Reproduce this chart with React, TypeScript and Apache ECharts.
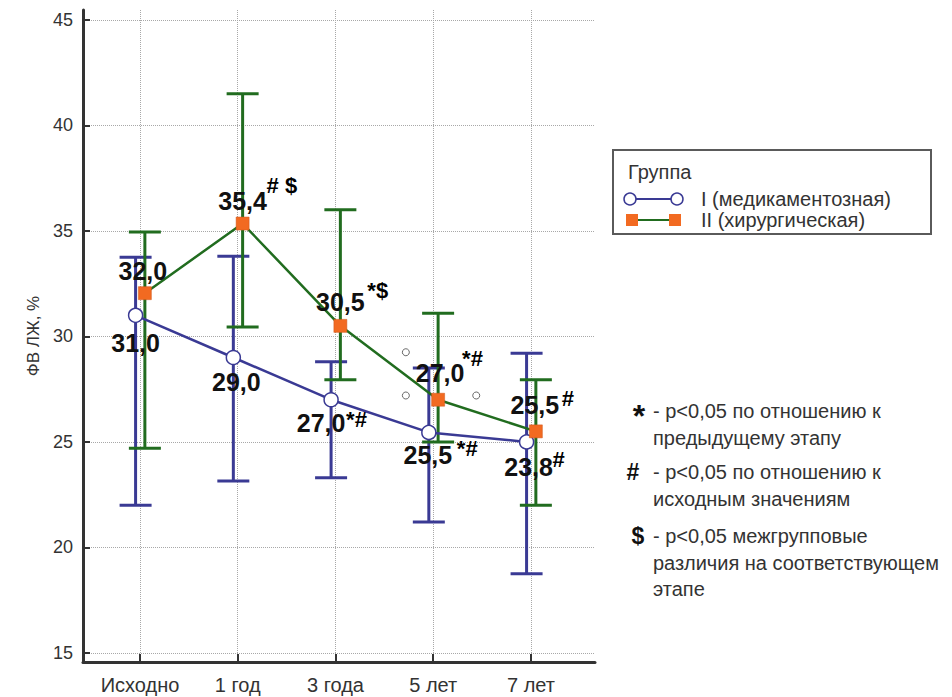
import React, { useEffect, useRef } from 'react';
import * as echarts from 'echarts';

const categories = ['Исходно', '1 год', '3 года', '5 лет', '7 лет'];
const categoryIndex = [0, 1, 2, 3, 4];
const yTicks = [15, 20, 25, 30, 35, 40, 45];
const yAxisTitle = 'ФВ ЛЖ, %';
const legendTitle = 'Группа';

const group1Name = 'I (медикаментозная)';
const group1Mean = [31.0, 29.0, 27.0, 25.45, 25.0];
const group1Low = [22.0, 23.15, 23.3, 21.2, 18.75];
const group1High = [33.75, 33.8, 28.8, 28.5, 29.2];
const group1Text = ['31,0', '29,0', '27,0', '25,5', '23,8'];
const group1Marks = ['', '', '*#', '*#', '#'];

const group2Name = 'II (хирургическая)';
const group2Mean = [32.05, 35.35, 30.5, 27.0, 25.5];
const group2Low = [24.7, 30.45, 27.95, 25.0, 22.0];
const group2High = [34.95, 41.5, 36.0, 31.1, 27.95];
const group2Text = ['32,0', '35,4', '30,5', '27,0', '25,5'];
const group2Marks = ['', '# $', '*$', '*#', '#'];

// small open circles seen around "5 лет"
const strayX = [2.72, 2.72, 3.44];
const strayY = [29.25, 27.2, 27.2];

const notes = [
  { sym: '*', lines: ['- p<0,05 по отношению к', 'предыдущему этапу'] },
  { sym: '#', lines: ['- p<0,05 по отношению к', 'исходным значениям'] },
  { sym: '$', lines: ['- p<0,05 межгрупповые', 'различия на соответствующем', 'этапе'] },
];

// layout (pixels)
const g1Dodge = -0.045;
const g2Dodge = 0.05;
const g1LabelOffset = [[0, 28], [3, 24], [-10, 23], [-1, 23], [2, 25]];
const g1MarkOffset = [[0, 0], [0, 0], [15, 20], [28, 16], [26, 18]];
const g2LabelOffset = [[-2, -22], [0, -23], [0, -24], [2, -27], [-1, -26]];
const g2MarkOffset = [[0, 0], [24, -38], [27, -35], [24, -41], [26, -33]];

const BLUE = '#3a3a94';
const GREEN = '#216c1f';
const ORANGE = '#f26a21';
const FONT = '"Liberation Sans", Arial, sans-serif';

function errorBarRender(color: string) {
  return (params: any, api: any) => {
    const x = api.value(0);
    const lo = api.value(1);
    const hi = api.value(2);
    const pLo = api.coord([x, lo]);
    const pHi = api.coord([x, hi]);
    const hw = 16;
    const style = { stroke: color, lineWidth: 3 };
    return {
      type: 'group',
      children: [
        { type: 'line', shape: { x1: pHi[0], y1: pHi[1], x2: pLo[0], y2: pLo[1] }, style },
        { type: 'line', shape: { x1: pHi[0] - hw, y1: pHi[1], x2: pHi[0] + hw, y2: pHi[1] }, style },
        { type: 'line', shape: { x1: pLo[0] - hw, y1: pLo[1], x2: pLo[0] + hw, y2: pLo[1] }, style },
      ],
    };
  };
}

export default function App() {
  const ref = useRef<HTMLDivElement>(null);
  useEffect(() => {
    if (!ref.current) return;
    const chart = echarts.init(ref.current, null, { renderer: 'svg' });

    const g1Err = categoryIndex.map((c, i) => [c + g1Dodge, group1Low[i], group1High[i]]);
    const g2Err = categoryIndex.map((c, i) => [c + g2Dodge, group2Low[i], group2High[i]]);

    const mainLabel = {
      show: true,
      position: 'inside',
      fontSize: 25,
      fontWeight: 'bold',
      color: '#111',
      textBorderWidth: 0,
      fontFamily: FONT,
    };

    const g1Line = categoryIndex.map((c, i) => ({
      value: [c + g1Dodge, group1Mean[i]],
      label: { ...mainLabel, formatter: group1Text[i], offset: g1LabelOffset[i] },
    }));
    const g2Line = categoryIndex.map((c, i) => ({
      value: [c + g2Dodge, group2Mean[i]],
      label: { ...mainLabel, formatter: group2Text[i], offset: g2LabelOffset[i] },
    }));

    const markLabel = {
      show: true,
      position: 'inside',
      align: 'left',
      verticalAlign: 'middle',
      fontSize: 22,
      fontWeight: 'bold',
      color: '#000',
      opacity: 1,
      textBorderWidth: 0,
      fontFamily: FONT,
    };
    const marksData: any[] = [];
    categoryIndex.forEach((c, i) => {
      if (group1Marks[i]) {
        marksData.push({
          value: [c + g1Dodge, group1Mean[i]],
          label: { ...markLabel, formatter: group1Marks[i], offset: g1MarkOffset[i] },
        });
      }
      if (group2Marks[i]) {
        marksData.push({
          value: [c + g2Dodge, group2Mean[i]],
          label: { ...markLabel, formatter: group2Marks[i], offset: g2MarkOffset[i] },
        });
      }
    });

    const TXT = 20;
    const graphic: any[] = [
      {
        type: 'rect',
        shape: { x: 613, y: 150, width: 318, height: 84 },
        style: { fill: '#fff', stroke: '#5a5a5a', lineWidth: 2 },
        z: 10,
      },
      {
        type: 'text', x: 628, y: 172, z: 11,
        style: { text: legendTitle, fontSize: TXT, fill: '#333', verticalAlign: 'middle', fontFamily: FONT },
      },
      { type: 'line', z: 11, shape: { x1: 630, y1: 199, x2: 677, y2: 199 }, style: { stroke: BLUE, lineWidth: 2 } },
      { type: 'circle', z: 12, shape: { cx: 630, cy: 199, r: 6 }, style: { fill: '#fff', stroke: BLUE, lineWidth: 1.5 } },
      { type: 'circle', z: 12, shape: { cx: 677, cy: 199, r: 6 }, style: { fill: '#fff', stroke: BLUE, lineWidth: 1.5 } },
      {
        type: 'text', x: 701, y: 199, z: 11,
        style: { text: group1Name, fontSize: TXT, fill: '#333', verticalAlign: 'middle', fontFamily: FONT },
      },
      { type: 'line', z: 11, shape: { x1: 632, y1: 220, x2: 675, y2: 220 }, style: { stroke: GREEN, lineWidth: 2 } },
      { type: 'rect', z: 12, shape: { x: 626, y: 214, width: 12, height: 12 }, style: { fill: ORANGE } },
      { type: 'rect', z: 12, shape: { x: 669, y: 214, width: 12, height: 12 }, style: { fill: ORANGE } },
      {
        type: 'text', x: 701, y: 220, z: 11,
        style: { text: group2Name, fontSize: TXT, fill: '#333', verticalAlign: 'middle', fontFamily: FONT },
      },
    ];

    const noteTop = [411, 472, 536];
    const noteSymX = [639, 633, 638];
    notes.forEach((n, k) => {
      graphic.push({
        type: 'text', x: noteSymX[k], y: noteTop[k] + (n.sym === '*' ? 5 : 0), z: 11,
        style: {
          text: n.sym, fontSize: n.sym === '*' ? 32 : 23, fontWeight: 'bold', fill: '#111',
          align: 'center', verticalAlign: 'middle', fontFamily: FONT,
        },
      });
      n.lines.forEach((t, j) => {
        graphic.push({
          type: 'text', x: 653, y: noteTop[k] + j * 26.5, z: 11,
          style: { text: t, fontSize: TXT, fill: '#333', verticalAlign: 'middle', fontFamily: FONT },
        });
      });
    });

    chart.setOption({
      animation: false,
      backgroundColor: '#fff',
      grid: { left: 83, right: 357, top: 10, bottom: 35, containLabel: false },
      xAxis: {
        type: 'value',
        min: -0.583,
        max: 4.655,
        axisLine: { show: true, onZero: false, lineStyle: { color: '#333', width: 3 } },
        axisTick: {
          show: true, inside: true, length: 8, customValues: categoryIndex,
          lineStyle: { color: '#333', width: 2 },
        },
        axisLabel: {
          customValues: categoryIndex,
          formatter: (v: number) => categories[Math.round(v)] ?? '',
          fontSize: TXT, color: '#333', margin: 13, fontFamily: FONT,
        },
        splitLine: { show: true, lineStyle: { type: 'dotted', color: '#a8a8a8', width: 1 } },
      },
      yAxis: {
        type: 'value',
        min: 14.57,
        max: 45.47,
        name: yAxisTitle,
        nameLocation: 'middle',
        nameGap: 36,
        nameRotate: 90,
        nameTextStyle: { fontSize: 17, color: '#333', fontFamily: FONT },
        axisLine: { show: true, onZero: false, lineStyle: { color: '#333', width: 3 } },
        axisTick: {
          show: true, inside: true, length: 7, customValues: yTicks,
          lineStyle: { color: '#333', width: 2 },
        },
        axisLabel: {
          customValues: yTicks, fontSize: 18, color: '#333', margin: 10, fontFamily: FONT,
        },
        splitLine: { show: true, lineStyle: { type: 'dotted', color: '#a8a8a8', width: 1 } },
      },
      graphic,
      series: [
        {
          type: 'custom',
          name: group1Name + ' err',
          renderItem: errorBarRender(BLUE),
          encode: { x: 0, y: [1, 2] },
          data: g1Err,
          z: 3,
        },
        {
          type: 'custom',
          name: group2Name + ' err',
          renderItem: errorBarRender(GREEN),
          encode: { x: 0, y: [1, 2] },
          data: g2Err,
          z: 3,
        },
        {
          type: 'line',
          name: group1Name,
          data: g1Line,
          symbol: 'circle',
          symbolSize: 14,
          lineStyle: { color: BLUE, width: 2.5 },
          itemStyle: { color: '#fff', borderColor: BLUE, borderWidth: 1.5 },
          z: 4,
        },
        {
          type: 'line',
          name: group2Name,
          data: g2Line,
          symbol: 'rect',
          symbolSize: 13,
          lineStyle: { color: GREEN, width: 2.5 },
          itemStyle: { color: ORANGE, borderColor: '#d0561a', borderWidth: 0.5 },
          z: 5,
        },
        {
          type: 'scatter',
          name: 'stray',
          data: strayX.map((x, i) => [x, strayY[i]]),
          symbol: 'circle',
          symbolSize: 7,
          itemStyle: { color: '#fff', borderColor: '#444', borderWidth: 1 },
          z: 4,
        },
        {
          type: 'scatter',
          name: 'marks',
          data: marksData,
          symbolSize: 1,
          itemStyle: { color: 'rgba(255,255,255,0)' },
          z: 6,
        },
      ],
    });
    return () => chart.dispose();
  }, []);
  return (
    <div
      ref={ref}
      style={{ position: 'absolute', left: 0, top: 0, width: 952, height: 697 }}
    />
  );
}
